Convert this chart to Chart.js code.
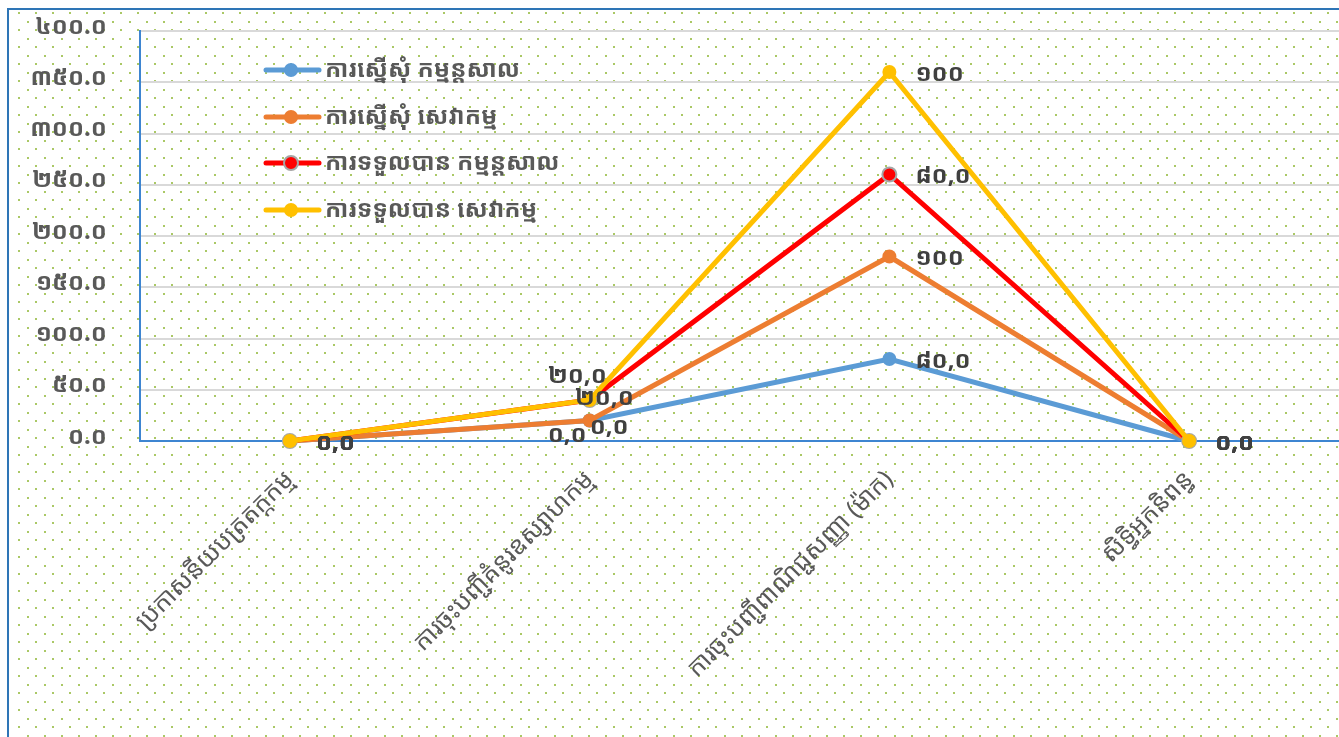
<!DOCTYPE html>
<html><head><meta charset="utf-8">
<script src="https://cdn.jsdelivr.net/npm/chart.js@4.4.1/dist/chart.umd.min.js"></script>
<style>html,body{margin:0;padding:0;background:#fff;overflow:hidden}#wrap{width:1339px;height:737px;position:relative}</style>
</head><body><div id="wrap"><canvas id="c" width="1339" height="737"></canvas></div>
<script>
const categories = ['ប្រកាសនីយបត្រតក្កកម្ម', 'ការចុះបញ្ជីគំនូរឧស្សាហកម្ម', 'ការចុះបញ្ជីពាណិជ្ជសញ្ញា (ម៉ាក)', 'សិទ្ធិអ្នកនិពន្ធ'];
const seriesNames = ['ការស្នើសុំ កម្មន្តសាល', 'ការស្នើសុំ សេវាកម្ម', 'ការទទួលបាន កម្មន្តសាល', 'ការទទួលបាន សេវាកម្ម'];
const requestFactory = [0, 20, 80, 0];
const requestService = [0, 0, 100, 0];
const grantedFactory = [0, 20, 80, 0];
const grantedService = [0, 0, 100, 0];
const yTickValues = [0, 50, 100, 150, 200, 250, 300, 350, 400];
const seriesColors = ['#5b9bd5', '#ed7d31', '#ff0000', '#ffc000'];

const KH = '០១២៣៤៥៦៧៨៩';
const toKhmer = s => String(s).replace(/[0-9]/g, d => KH[+d]);
const labelText = v => v === 100 ? toKhmer('100') : toKhmer(v.toFixed(1)).replace('.', ',');
const FONT = "'Noto Sans', 'Noto Sans Khmer', sans-serif";

const LineCtl = Chart.registry.getController('line');
LineCtl.prototype.getMaxOverflow = function () { return 0; };

const seriesValues = [requestFactory, requestService, grantedFactory, grantedService];
const datasets = seriesValues.map((vals, i) => ({
  label: seriesNames[i],
  data: vals,
  borderColor: seriesColors[i],
  backgroundColor: seriesColors[i],
  borderWidth: 5,
  pointRadius: 7,
  pointBorderWidth: i === 2 ? 2 : 0,
  pointBorderColor: i === 2 ? '#a6a6a6' : seriesColors[i],
  pointBackgroundColor: seriesColors[i],
  tension: 0,
  clip: false,
  fill: false
}));

const bgPlugin = {
  id: 'bg',
  beforeDraw(chart) {
    const ctx = chart.ctx;
    ctx.save();
    ctx.fillStyle = '#fff';
    ctx.fillRect(0, 0, chart.width, chart.height);
    ctx.fillStyle = '#aac866';
    let row = 0;
    for (let y = 12; y < chart.height; y += 8.5, row++) {
      const start = row % 2 === 0 ? 1 : 9.5;
      for (let x = start; x < chart.width; x += 17) {
        if (x > 10) ctx.fillRect(Math.round(x), Math.round(y), 2, 2);
      }
    }
    ctx.strokeStyle = '#2e75b6';
    ctx.lineWidth = 2;
    ctx.beginPath();
    ctx.moveTo(8, chart.height); ctx.lineTo(8, 9); ctx.lineTo(chart.width, 9);
    ctx.stroke();
    ctx.restore();
  }
};

const orderPlugin = {
  id: 'order',
  beforeDatasetsDraw(chart) {
    for (let i = 0; i < chart.data.datasets.length; i++) {
      const meta = chart.getDatasetMeta(i);
      if (!meta.hidden) meta.controller.draw();
    }
    return false;
  }
};

const labelOffsets = { '0,1': [-68, -46], '1,1': [-26, 5], '2,1': [-41, -4], '3,1': [-68, 33] };

const overlayPlugin = {
  id: 'overlay',
  afterDraw(chart) {
    const ctx = chart.ctx;
    ctx.save();
    ctx.font = 'bold 24px ' + FONT;
    ctx.fillStyle = '#404040';
    ctx.textBaseline = 'middle';
    ctx.textAlign = 'left';
    chart.data.datasets.forEach((ds, di) => {
      const meta = chart.getDatasetMeta(di);
      meta.data.forEach((pt, ci) => {
        const off = labelOffsets[di + ',' + ci] || [0, 0];
        ctx.fillText(labelText(ds.data[ci]), pt.x + 26 + off[0], pt.y + 2 + off[1]);
      });
    });
    const rows = [70, 117, 163, 210];
    chart.data.datasets.forEach((ds, i) => {
      const y = rows[i];
      ctx.strokeStyle = ds.borderColor;
      ctx.lineWidth = 5;
      ctx.lineCap = 'round';
      ctx.beginPath(); ctx.moveTo(266, y); ctx.lineTo(319, y); ctx.stroke();
      ctx.beginPath(); ctx.arc(291, y, 7, 0, Math.PI * 2);
      ctx.fillStyle = ds.pointBackgroundColor; ctx.fill();
      if (ds.pointBorderWidth) { ctx.lineWidth = 2; ctx.strokeStyle = ds.pointBorderColor; ctx.stroke(); }
      ctx.fillStyle = '#595959';
      ctx.font = 'bold 24px ' + FONT;
      ctx.textBaseline = 'middle';
      ctx.fillText(ds.label, 325, y);
    });
    ctx.restore();
  }
};

new Chart(document.getElementById('c'), {
  type: 'line',
  data: { labels: categories, datasets },
  options: {
    responsive: false,
    devicePixelRatio: 1,
    animation: false,
    layout: { padding: { top: 31, left: 0, right: 0, bottom: 0 } },
    plugins: { legend: { display: false }, tooltip: { enabled: false } },
    scales: {
      x: {
        offset: true,
        grid: { display: false, drawTicks: false },
        border: { display: true, color: '#3d85d1', width: 2 },
        ticks: { color: '#595959', font: { family: FONT, size: 25 }, minRotation: 45, maxRotation: 45, padding: 24, autoSkip: false },
        afterFit(s) { s.height = 296; s.paddingLeft = 0; s.paddingRight = 0; }
      },
      y: {
        stacked: true,
        min: 0, max: 400,
        afterBuildTicks(s) { s.ticks = yTickValues.map(v => ({ value: v })); },
        grid: { color: '#d9d9d9', lineWidth: 2, drawTicks: false },
        border: { display: true, color: '#3d85d1', width: 2 },
        ticks: { color: '#595959', padding: 33, font: { family: FONT, size: 24, weight: 'bold', lineHeight: 0.35 }, callback: v => [toKhmer(Number(v).toFixed(1)), ''] },
        afterFit(s) { s.width = 140; s.paddingTop = 0; s.paddingBottom = 0; }
      }
    }
  },
  plugins: [bgPlugin, orderPlugin, overlayPlugin]
});
</script></body></html>
